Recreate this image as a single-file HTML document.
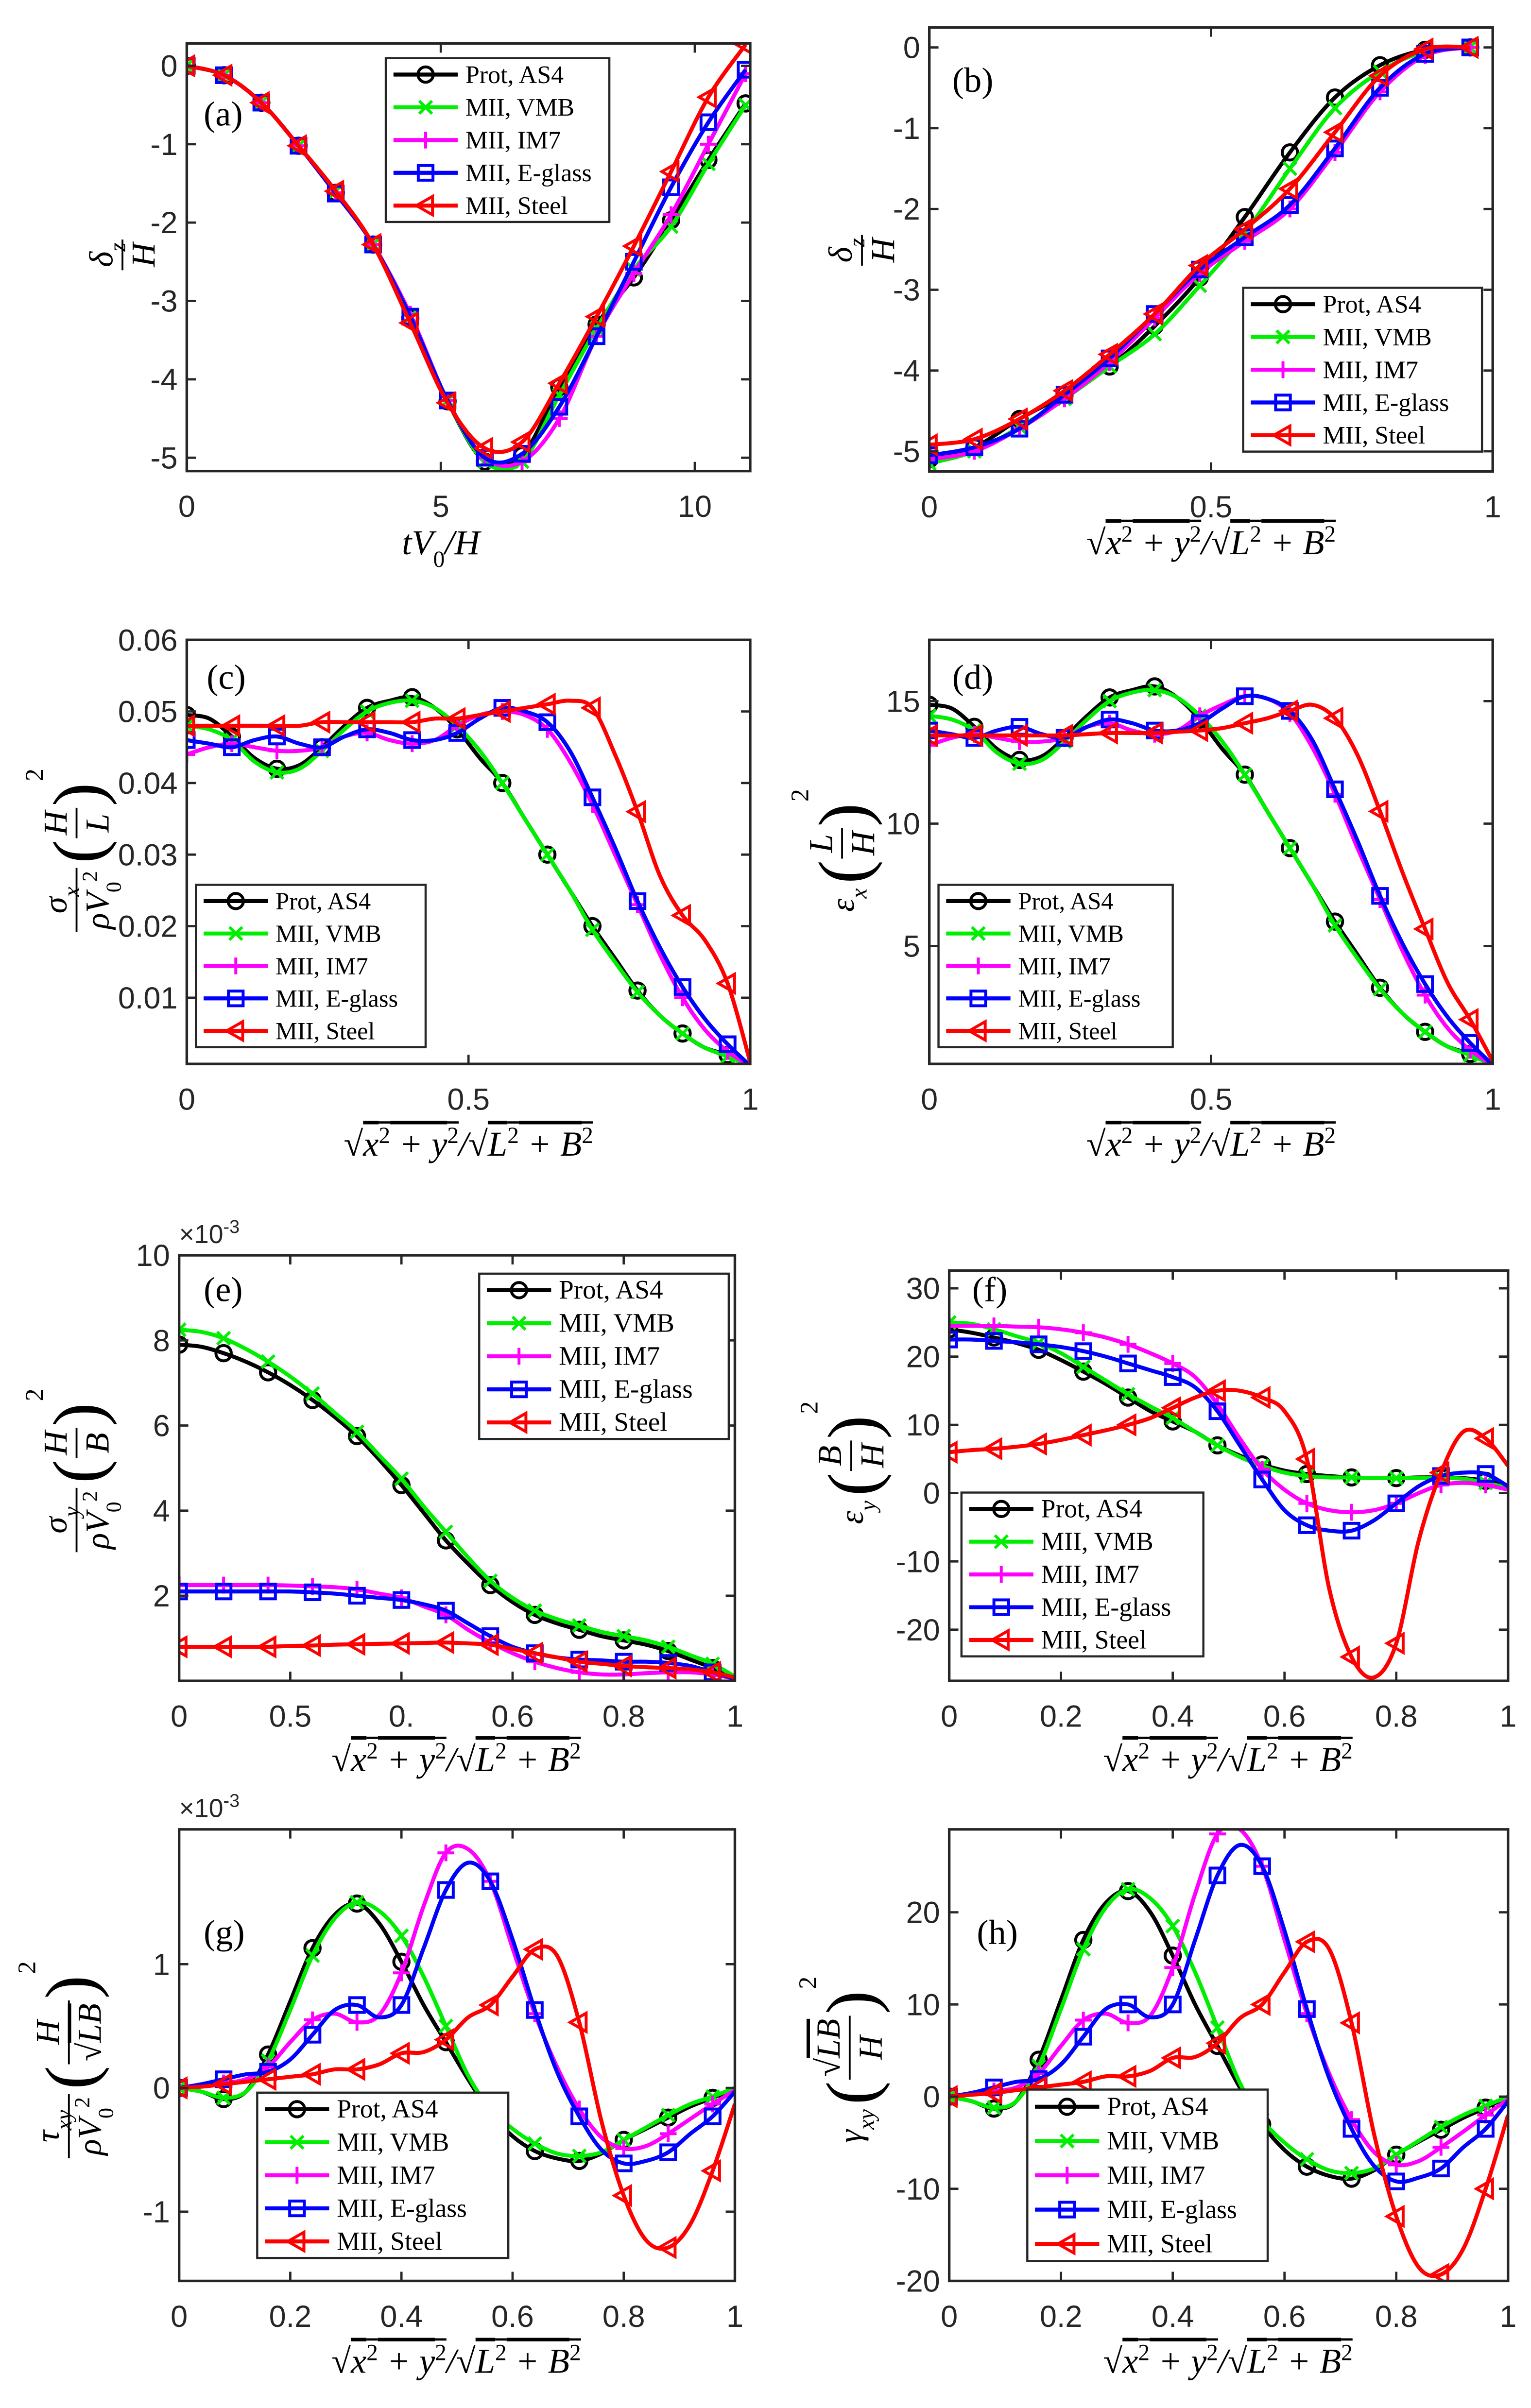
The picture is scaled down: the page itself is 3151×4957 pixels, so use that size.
<!DOCTYPE html>
<html><head><meta charset="utf-8"><title>Panels</title>
<style>html,body{margin:0;padding:0;background:#fff;}svg{display:block;}</style></head>
<body>
<svg id="fig" xmlns="http://www.w3.org/2000/svg" width="3151" height="4957" viewBox="0 0 1000 1573" preserveAspectRatio="none">
<rect x="0" y="0" width="1000" height="1573" fill="#fff"/>
</svg>
<script>
// ---------- data ----------
const seriesNames=["Prot, AS4","MII, VMB","MII, IM7","MII, E-glass","MII, Steel"];
const gridA=[0,0.733,1.467,2.2,2.933,3.667,4.4,5.133,5.867,6.6,7.333,8.067,8.8,9.533,10.267,11];
const gridB=[0,0.08,0.16,0.24,0.32,0.4,0.48,0.56,0.64,0.72,0.8,0.88,0.96];
const grid04=[0,0.04,0.08,0.12,0.16,0.2,0.24,0.28,0.32,0.36,0.4,0.44,0.48,0.52,0.56,0.6,0.64,0.68,0.72,0.76,0.8,0.84,0.88,0.92,0.96,1];

const aProt=[0,-0.12,-0.47,-1.02,-1.62,-2.28,-3.22,-4.28,-5.05,-4.97,-4.1,-3.3,-2.7,-1.97,-1.2,-0.48];
const aVMB=[0,-0.12,-0.47,-1.02,-1.6,-2.28,-3.2,-4.27,-5.05,-5.05,-4.2,-3.35,-2.6,-2.05,-1.25,-0.5];
const aIM7=[0,-0.12,-0.47,-1.02,-1.62,-2.28,-3.17,-4.27,-5.0,-5.05,-4.5,-3.45,-2.65,-1.9,-1.0,-0.1];
const aEgl=[0,-0.12,-0.47,-1.02,-1.63,-2.28,-3.2,-4.27,-5.0,-4.95,-4.35,-3.45,-2.5,-1.55,-0.72,-0.05];
const aSteel=[0,-0.12,-0.47,-1.02,-1.6,-2.28,-3.28,-4.3,-4.88,-4.8,-4.05,-3.2,-2.3,-1.35,-0.4,0.27];

const bProt=[-5.1,-4.95,-4.6,-4.3,-3.95,-3.45,-2.85,-2.1,-1.3,-0.62,-0.22,-0.03,0];
const bVMB=[-5.15,-5.0,-4.7,-4.35,-3.95,-3.55,-2.95,-2.3,-1.5,-0.75,-0.3,-0.05,0];
const bIM7=[-5.1,-5.0,-4.72,-4.35,-3.9,-3.35,-2.8,-2.4,-2.0,-1.3,-0.55,-0.1,0];
const bEgl=[-5.05,-4.95,-4.72,-4.3,-3.85,-3.3,-2.75,-2.35,-1.95,-1.25,-0.5,-0.08,0];
const bSteel=[-4.92,-4.85,-4.6,-4.25,-3.8,-3.3,-2.7,-2.25,-1.75,-1.05,-0.35,-0.02,0];

const cProt=[0.0495,0.049,0.0465,0.0435,0.042,0.0425,0.045,0.048,0.0505,0.0515,0.052,0.0505,0.0475,0.0435,0.040,0.035,0.030,0.025,0.020,0.0155,0.011,0.0075,0.005,0.003,0.002,0.0005];
const cVMB=[0.048,0.0475,0.046,0.043,0.0415,0.042,0.0445,0.0475,0.050,0.0512,0.0515,0.0505,0.048,0.0445,0.040,0.035,0.030,0.025,0.0195,0.015,0.0108,0.0075,0.005,0.003,0.0018,0.0005];
const cIM7=[0.044,0.045,0.0455,0.045,0.0445,0.0445,0.045,0.0465,0.047,0.046,0.0455,0.046,0.048,0.0495,0.050,0.0495,0.0475,0.043,0.037,0.030,0.023,0.016,0.010,0.0055,0.0025,0.0005];
const cEgl=[0.046,0.0455,0.045,0.046,0.0465,0.0455,0.045,0.0465,0.0475,0.047,0.046,0.046,0.047,0.049,0.0505,0.050,0.0485,0.0445,0.038,0.031,0.0235,0.017,0.0115,0.007,0.0035,0.0005];
const cSteel=[0.048,0.048,0.048,0.048,0.048,0.048,0.0485,0.0485,0.0485,0.0485,0.0485,0.049,0.049,0.0495,0.050,0.0505,0.051,0.0515,0.0505,0.044,0.036,0.027,0.0215,0.018,0.012,0.001];

const dProt=[14.85,14.7,13.95,13.05,12.6,12.75,13.5,14.4,15.15,15.45,15.6,15.15,14.25,13.05,12,10.5,9,7.5,6,4.65,3.3,2.25,1.5,0.9,0.6,0.15];
const dVMB=[14.4,14.25,13.8,12.9,12.45,12.6,13.35,14.25,15,15.35,15.45,15.15,14.4,13.35,12,10.5,9,7.5,5.85,4.5,3.25,2.25,1.5,0.9,0.55,0.15];
const dIM7=[13.2,13.5,13.65,13.5,13.35,13.35,13.5,13.95,14.1,13.8,13.65,13.8,14.4,14.85,15.2,15.1,14.5,13.1,11.2,9,6.9,4.8,3,1.65,0.75,0.15];
const dEgl=[13.8,13.65,13.5,13.8,13.95,13.65,13.5,13.95,14.25,14.1,13.8,13.8,14.1,14.7,15.2,15.1,14.6,13.4,11.4,9.3,7.05,5.1,3.45,2.1,1.05,0.15];
const dSteel=[13.6,13.6,13.6,13.6,13.6,13.6,13.6,13.65,13.7,13.7,13.7,13.75,13.8,13.9,14.1,14.3,14.6,14.85,14.3,12.8,10.5,8,5.7,3.5,2,0.3];

const eProt=[7.9,7.85,7.7,7.5,7.25,6.95,6.6,6.2,5.75,5.2,4.6,3.95,3.3,2.75,2.25,1.85,1.55,1.35,1.2,1.05,0.95,0.85,0.7,0.5,0.3,0.05];
const eVMB=[8.25,8.2,8.05,7.8,7.5,7.15,6.75,6.3,5.85,5.3,4.75,4.1,3.5,2.9,2.35,1.95,1.65,1.45,1.3,1.15,1.05,0.95,0.8,0.6,0.4,0.1];
const eIM7=[2.25,2.25,2.25,2.25,2.25,2.24,2.22,2.2,2.15,2.05,1.95,1.75,1.55,1.2,0.9,0.65,0.45,0.3,0.2,0.15,0.15,0.18,0.2,0.2,0.15,0.05];
const eEgl=[2.1,2.1,2.1,2.1,2.1,2.1,2.08,2.05,2.0,1.95,1.9,1.8,1.65,1.35,1.05,0.8,0.65,0.55,0.5,0.48,0.45,0.45,0.42,0.35,0.2,0.05];
const eSteel=[0.8,0.8,0.8,0.8,0.8,0.82,0.83,0.85,0.86,0.87,0.88,0.89,0.9,0.88,0.85,0.75,0.65,0.55,0.45,0.4,0.35,0.32,0.3,0.27,0.2,0.08];

const fProt=[24,23.5,22.8,22,21,19.5,17.8,16,14,12,10.5,9,7,5.5,4.2,3.3,2.8,2.5,2.3,2.2,2.2,2.3,2.3,2.2,1.8,1];
const fVMB=[25,24.8,24,23,22,20.5,18.5,16.5,14.5,12.7,11,9,7,5.3,4,3,2.5,2.3,2.3,2.2,2.2,2.2,2.2,2.1,1.5,0.8];
const fIM7=[24.5,24.5,24.5,24.4,24.3,24,23.5,22.8,21.8,20.5,19,17,13,8,3.5,0.5,-1.5,-2.5,-2.8,-2.5,-1.5,0,1.2,1.5,1.2,0.5];
const fEgl=[22.5,22.5,22.3,22.1,21.8,21.4,20.8,20,19,18,17,15.5,12,7,2,-2.5,-4.7,-5.5,-5.5,-4,-1.5,1,2.5,3,2.8,1];
const fSteel=[6,6.3,6.5,6.8,7.2,7.8,8.5,9.2,10,11,12.5,14,15,15,14,12,5,-14,-24,-27,-22,-7,3,9,8,4];

const gProt=[0,-0.03,-0.09,-0.03,0.27,0.7,1.13,1.4,1.49,1.33,1.02,0.67,0.37,0.07,-0.2,-0.39,-0.51,-0.57,-0.59,-0.53,-0.42,-0.33,-0.24,-0.15,-0.08,0];
const gVMB=[0,-0.03,-0.08,-0.03,0.22,0.63,1.07,1.37,1.5,1.43,1.23,0.9,0.5,0.1,-0.17,-0.33,-0.45,-0.53,-0.55,-0.52,-0.42,-0.32,-0.22,-0.13,-0.07,0];
const gIM7=[0,0.02,0.04,0.07,0.17,0.37,0.55,0.6,0.53,0.59,0.93,1.47,1.9,1.93,1.67,1.13,0.6,0.17,-0.17,-0.4,-0.49,-0.47,-0.37,-0.25,-0.13,-0.02];
const gEgl=[0,0.03,0.07,0.11,0.13,0.23,0.43,0.63,0.67,0.57,0.67,1.13,1.6,1.82,1.67,1.2,0.63,0.13,-0.23,-0.5,-0.61,-0.59,-0.52,-0.37,-0.23,-0.03];
const gSteel=[0,0.01,0.03,0.05,0.07,0.09,0.11,0.15,0.15,0.19,0.28,0.29,0.39,0.57,0.67,0.9,1.12,1.07,0.53,-0.27,-0.87,-1.23,-1.29,-1.1,-0.67,-0.13];

const hProt=[0,-0.5,-1.3,-0.5,4,10.5,17,21,22.3,20,15.3,10,5.5,1,-3,-5.8,-7.6,-8.6,-8.9,-8,-6.3,-4.9,-3.6,-2.3,-1.2,0];
const hVMB=[0,-0.5,-1.2,-0.5,3.3,9.5,16,20.5,22.5,21.5,18.5,13.5,7.5,1.5,-2.5,-5,-6.8,-8,-8.3,-7.8,-6.3,-4.8,-3.3,-2,-1,0];
const hIM7=[0,0.3,0.6,1,2.5,5.5,8.3,9,8,8.8,14,22,28.5,29,25,17,9,2.5,-2.5,-6,-7.4,-7,-5.5,-3.8,-2,-0.3];
const hEgl=[0,0.4,1.0,1.6,1.9,3.5,6.5,9.5,10,8.6,10,17,24,27.3,25,18,9.5,2,-3.5,-7.5,-9.2,-8.8,-7.8,-5.5,-3.5,-0.5];
const hSteel=[0,0.2,0.4,0.7,1,1.3,1.6,2.2,2.2,2.8,4.2,4.3,5.8,8.5,10,13.5,16.8,16,8,-4,-13,-18.5,-19.3,-16.5,-10,-2];

const xt01=[0,0.5,1], xtl01=["0","0.5","1"];
const xt02=[0,0.2,0.4,0.6,0.8,1], xtl02=["0","0.2","0.4","0.6","0.8","1"];
const xtlE=["0","0.5","0.","0.6","0.8","1"];

// ---------- rendering ----------
const NS='http://www.w3.org/2000/svg';
const svg=document.getElementById('fig');
const COL=['#000000','#00ee00','#ff00ff','#0000ff','#ff0000'];
const MK=['circle','x','plus','square','tri'];
const INK='#262626';
const LW=2.6;
function mk(tag,parent,attrs){const e=document.createElementNS(NS,tag);for(const k in attrs)e.setAttribute(k,attrs[k]);parent.appendChild(e);return e;}
function crPath(p){let d=`M${p[0][0].toFixed(2)},${p[0][1].toFixed(2)}`;for(let i=0;i<p.length-1;i++){const p0=p[i-1]||p[i],p1=p[i],p2=p[i+1],p3=p[i+2]||p2;const c1=[p1[0]+(p2[0]-p0[0])/6,p1[1]+(p2[1]-p0[1])/6],c2=[p2[0]-(p3[0]-p1[0])/6,p2[1]-(p3[1]-p1[1])/6];d+=` C${c1[0].toFixed(2)},${c1[1].toFixed(2)} ${c2[0].toFixed(2)},${c2[1].toFixed(2)} ${p2[0].toFixed(2)},${p2[1].toFixed(2)}`;}return d;}
function marker(parent,type,cx,cy,col){
  const a={stroke:col,'stroke-width':1.9,fill:'none'};let el;
  if(type==='circle'){el=mk('circle',parent,Object.assign({cx:cx,cy:cy,r:5},a));}
  else if(type==='square'){el=mk('rect',parent,Object.assign({x:cx-4.8,y:cy-4.8,width:9.6,height:9.6},a));}
  else if(type==='tri'){el=mk('polygon',parent,Object.assign({points:`${cx-6},${cy} ${cx+4.5},${cy-6} ${cx+4.5},${cy+6}`},a));}
  else if(type==='x'){el=mk('path',parent,Object.assign({d:`M${cx-4.2},${cy-4.2}L${cx+4.2},${cy+4.2}M${cx-4.2},${cy+4.2}L${cx+4.2},${cy-4.2}`},a));}
  else {el=mk('path',parent,Object.assign({d:`M${cx-5.5},${cy}L${cx+5.5},${cy}M${cx},${cy-5.5}L${cx},${cy+5.5}`},a));}
  
  
  return el;
}
function frac(parent,x,n,d,fs){
  const a=mk('text',parent,{'text-anchor':'middle','font-size':fs,'font-style':'italic','font-family':'"Liberation Serif", serif'});a.innerHTML=n;
  const b=mk('text',parent,{'text-anchor':'middle','font-size':fs,'font-style':'italic','font-family':'"Liberation Serif", serif'});b.innerHTML=d;
  const w=Math.max(a.getComputedTextLength(),b.getComputedTextLength())+4;
  a.setAttribute('x',x+w/2);a.setAttribute('y',-fs*0.3);
  b.setAttribute('x',x+w/2);b.setAttribute('y',fs*0.95);
  mk('line',parent,{x1:x,x2:x+w,y1:0,y2:0,stroke:'#000','stroke-width':1.2});
  return w;
}
function ylab(parent,cx,cy,items,fs){
  const g=mk('g',parent,{transform:`translate(${cx},${cy}) rotate(-90)`});
  
  
  const inner=mk('g',g,{});let x=0;
  for(const it of items){
    if(it.t==='frac'){x+=frac(inner,x,it.n,it.d,fs)+3;}
    else if(it.t==='txt'){const t=mk('text',inner,{x:x,y:fs*0.35,'font-size':fs,'font-style':'italic','font-family':'"Liberation Serif", serif'});t.innerHTML=it.s;x+=t.getComputedTextLength()+3;}
    else{
      const o=mk('text',inner,{x:x,y:fs*0.75,'font-size':fs*2.1,'font-family':'"Liberation Serif", serif'});o.textContent='(';x+=o.getComputedTextLength()+1;
      x+=frac(inner,x,it.n,it.d,fs)+1;
      const c=mk('text',inner,{x:x,y:fs*0.75,'font-size':fs*2.1,'font-family':'"Liberation Serif", serif'});c.textContent=')';x+=c.getComputedTextLength();
      const s=mk('text',inner,{x:x+1,y:-fs*1.0,'font-size':fs*0.75,'font-family':'"Liberation Serif", serif'});s.textContent='2';x+=s.getComputedTextLength()+2;
    }
  }
  inner.setAttribute('transform',`translate(${-x/2},0)`);
}
const SUP2='<tspan baseline-shift="super" font-size="15" font-style="normal">2</tspan>';
const RADX=`<tspan font-style="normal">√</tspan><tspan text-decoration="overline">x${SUP2} + y${SUP2}</tspan>/<tspan font-style="normal">√</tspan><tspan text-decoration="overline">L${SUP2} + B${SUP2}</tspan>`;
const SUB=(s)=>`<tspan baseline-shift="sub" font-size="15">${s}</tspan>`;
const RV='ρV<tspan baseline-shift="sub" font-size="14" font-style="normal">0</tspan><tspan baseline-shift="super" font-size="14" font-style="normal">2</tspan>';

const panels=[
 {id:'a',L:122,R:490,T:28.4,B:307.7,xr:[0,11.09],yr:[-5.17,0.285],xs:gridA,ys:[aProt,aVMB,aIM7,aEgl,aSteel],ms:1,
  xt:[0,5,10],xtl:["0","5","10"],yt:[0,-1,-2,-3,-4,-5],ytl:["0","-1","-2","-3","-4","-5"],
  leg:[252,38,146,107,16.5],lab:[133,82],xl:[288,362,'t<tspan>V</tspan><tspan baseline-shift="sub" font-size="15" font-style="normal">0</tspan>/H'],
  yl:[80,165,[{t:'frac',n:'δ'+SUB('z'),d:'H'}]]},
 {id:'b',L:607,R:975,T:18,B:308,xr:[0,1],yr:[-5.25,0.246],xs:gridB,ys:[bProt,bVMB,bIM7,bEgl,bSteel],ms:1,
  xt:xt01,xtl:xtl01,yt:[0,-1,-2,-3,-4,-5],ytl:["0","-1","-2","-3","-4","-5"],
  leg:[812,188,156,107,16.5],lab:[622,60],xl:[791,362,RADX],
  yl:[563,162,[{t:'frac',n:'δ'+SUB('z'),d:'H'}]]},
 {id:'c',L:122,R:490,T:418,B:695,xr:[0,1],yr:[0.00075,0.06],xs:grid04,ys:[cProt,cVMB,cIM7,cEgl,cSteel],ms:2,
  xt:xt01,xtl:xtl01,yt:[0.01,0.02,0.03,0.04,0.05,0.06],ytl:["0.01","0.02","0.03","0.04","0.05","0.06"],
  leg:[128,578,150,106,16],lab:[135,450],xl:[306,755,RADX],
  yl:[50,555,[{t:'frac',n:'σ'+SUB('x'),d:RV},{t:'paren',n:'H',d:'L'}]]},
 {id:'d',L:607,R:975,T:418,B:695,xr:[0,1],yr:[0.19,17.5],xs:grid04,ys:[dProt,dVMB,dIM7,dEgl,dSteel],ms:2,
  xt:xt01,xtl:xtl01,yt:[5,10,15],ytl:["5","10","15"],
  leg:[613,578,153,106,16],lab:[622,450],xl:[791,755,RADX],
  yl:[550,555,[{t:'txt',s:'ε'+SUB('x')},{t:'paren',n:'L',d:'H'}]]},
 {id:'e',L:117,R:480,T:820,B:1098,xr:[0,1],yr:[0,10],xs:grid04,ys:[eProt,eVMB,eIM7,eEgl,eSteel],ms:2,
  xt:xt02,xtl:xtlE,yt:[2,4,6,8,10],ytl:["2","4","6","8","10"],
  leg:[313,832,163,108,17.5],lab:[133,850],xl:[298,1157,RADX],exp:[117,812],
  yl:[50,960,[{t:'frac',n:'σ'+SUB('y'),d:RV},{t:'paren',n:'H',d:'B'}]]},
 {id:'f',L:620,R:985,T:830,B:1098,xr:[0,1],yr:[-27.5,32.6],xs:grid04,ys:[fProt,fVMB,fIM7,fEgl,fSteel],ms:2,
  xt:xt02,xtl:xtl02,yt:[-20,-10,0,10,20,30],ytl:["-20","-10","0","10","20","30"],
  leg:[628,975,158,107,17],lab:[635,850],xl:[802,1157,RADX],
  yl:[556,955,[{t:'txt',s:'ε'+SUB('y')},{t:'paren',n:'B',d:'H'}]]},
 {id:'g',L:117,R:480,T:1195,B:1490,xr:[0,1],yr:[-1.56,2.09],xs:grid04,ys:[gProt,gVMB,gIM7,gEgl,gSteel],ms:2,
  xt:xt02,xtl:xtl02,yt:[-1,0,1],ytl:["-1","0","1"],
  leg:[168,1367,164,108,17],lab:[133,1270],xl:[298,1550,RADX],exp:[117,1187],
  yl:[45,1345,[{t:'frac',n:'τ'+SUB('xy'),d:RV},{t:'paren',n:'H',d:'<tspan font-style="normal">√</tspan><tspan text-decoration="overline">LB</tspan>'}]]},
 {id:'h',L:620,R:985,T:1195,B:1490,xr:[0,1],yr:[-20,29],xs:grid04,ys:[hProt,hVMB,hIM7,hEgl,hSteel],ms:2,
  xt:xt02,xtl:xtl02,yt:[-20,-10,0,10,20],ytl:["-20","-10","0","10","20"],
  leg:[671,1365,157,112,17],lab:[638,1270],xl:[802,1550,RADX],
  yl:[555,1345,[{t:'txt',s:'γ'+SUB('xy')},{t:'paren',n:'<tspan font-style="normal">√</tspan><tspan text-decoration="overline">LB</tspan>',d:'H'}]]}
];

for(const p of panels){
  const g=mk('g',svg,{});
  
  
  const sx=v=>p.L+(v-p.xr[0])/(p.xr[1]-p.xr[0])*(p.R-p.L);
  const sy=v=>p.B-(v-p.yr[0])/(p.yr[1]-p.yr[0])*(p.B-p.T);
  const cp=mk('clipPath',g,{id:'clip-'+p.id});
  mk('rect',cp,{x:p.L,y:p.T,width:p.R-p.L,height:p.B-p.T});
  const plot=mk('g',g,{'clip-path':`url(#clip-${p.id})`});
  
  
  p.ys.forEach((ys,si)=>{
    const sg=mk('g',plot,{});
    
    
    const pts=ys.map((v,i)=>[sx(p.xs[i]),sy(v)]);
    const path=mk('path',sg,{d:crPath(pts),fill:'none',stroke:COL[si],'stroke-width':LW,'stroke-linejoin':'round'});
    
    
    for(let i=0;i<pts.length;i+=p.ms){marker(sg,MK[si],pts[i][0],pts[i][1],COL[si]);}
  });
  const box=mk('rect',g,{x:p.L,y:p.T,width:p.R-p.L,height:p.B-p.T,fill:'none',stroke:INK,'stroke-width':1.7});
  
  
  p.xt.forEach((v,i)=>{
    const x=sx(v);
    mk('line',g,{x1:x,x2:x,y1:p.B,y2:p.B-6,stroke:INK,'stroke-width':1.5});
    mk('line',g,{x1:x,x2:x,y1:p.T,y2:p.T+6,stroke:INK,'stroke-width':1.5});
    const t=mk('text',g,{x:x,y:p.B+30,'text-anchor':'middle','font-size':20,'font-family':'"Liberation Sans", sans-serif',fill:INK});
    t.textContent=p.xtl[i];
    
    
  });
  p.yt.forEach((v,i)=>{
    const y=sy(v);
    mk('line',g,{x1:p.L,x2:p.L+6,y1:y,y2:y,stroke:INK,'stroke-width':1.5});
    mk('line',g,{x1:p.R,x2:p.R-6,y1:y,y2:y,stroke:INK,'stroke-width':1.5});
    const t=mk('text',g,{x:p.L-6,y:y+7,'text-anchor':'end','font-size':20,'font-family':'"Liberation Sans", sans-serif',fill:INK});
    t.textContent=p.ytl[i];
    
    
  });
  if(p.exp){
    const t=mk('text',g,{x:p.exp[0],y:p.exp[1],'font-size':17,'font-family':'"Liberation Sans", sans-serif',fill:INK});
    t.innerHTML='×10<tspan baseline-shift="super" font-size="12">-3</tspan>';
    
    
  }
  const lb=mk('text',g,{x:p.lab[0],y:p.lab[1],'font-size':23,'font-family':'"Liberation Serif", serif',fill:'#000'});
  lb.textContent='('+p.id+')';
  
  
  const xl=mk('text',g,{x:p.xl[0],y:p.xl[1],'text-anchor':'middle','font-size':23,'font-style':'italic','font-family':'"Liberation Serif", serif',fill:'#000'});
  xl.innerHTML=p.xl[2];
  
  
  ylab(g,p.yl[0],p.yl[1],p.yl[2],22);
  const [lx,ly,lw,lh,lfs]=p.leg;
  const lg=mk('g',g,{});
  
  
  mk('rect',lg,{x:lx,y:ly,width:lw,height:lh,fill:'#fff',stroke:INK,'stroke-width':1.4});
  seriesNames.forEach((nm,i)=>{
    const ry=ly+lh*(i+0.5)/5;
    const e=mk('g',lg,{});
    
    
    mk('line',e,{x1:lx+5,x2:lx+47,y1:ry,y2:ry,stroke:COL[i],'stroke-width':LW});
    marker(e,MK[i],lx+26,ry,COL[i]);
    const t=mk('text',e,{x:lx+52,y:ry+5.5,'font-size':lfs,'font-family':'"Liberation Serif", serif',fill:'#000'});
    t.textContent=nm;
  });
}
</script>
</body></html>
